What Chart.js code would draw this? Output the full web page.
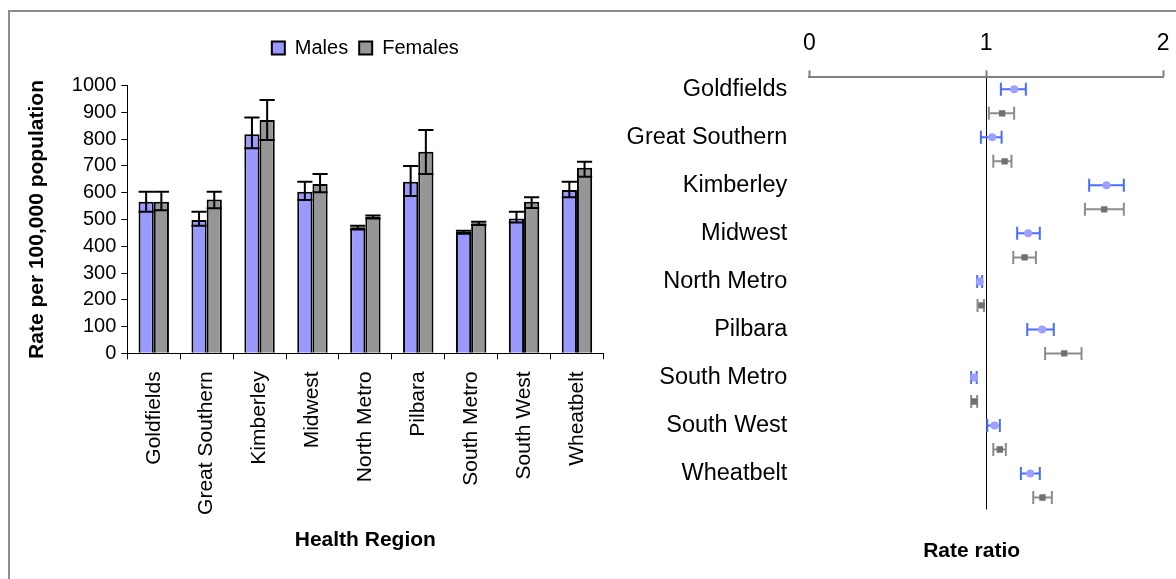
<!DOCTYPE html>
<html><head><meta charset="utf-8">
<script src="https://cdn.jsdelivr.net/npm/chart.js@4.4.1/dist/chart.umd.min.js"></script>
<style>
html,body{margin:0;padding:0;background:#fff;width:1176px;height:579px;overflow:hidden;}
#frame{position:absolute;left:8px;top:10px;width:1300px;height:700px;border-top:2px solid #8c8c8c;border-left:2px solid #8c8c8c;}
#left{position:absolute;left:0;top:0;}
#right{position:absolute;left:600px;top:0;}
</style></head><body>
<div id="frame"></div>
<canvas id="left" width="640" height="579"></canvas>
<canvas id="right" width="582" height="579"></canvas>
<script>
const regions = ['Goldfields','Great Southern','Kimberley','Midwest','North Metro','Pilbara','South Metro','South West','Wheatbelt'];
const rateTicks = [0,100,200,300,400,500,600,700,800,900,1000];
const maleRate     = [566, 498, 819, 604, 471, 641, 454, 504, 610];
const maleRateHigh = [604, 529, 881, 641, 477, 700, 458, 529, 641];
const maleRateLow  = [529, 477, 766, 573, 463, 588, 447, 489, 583];
const femaleRate     = [566, 575, 872, 633, 510, 753, 486, 566, 693];
const femaleRateHigh = [604, 604, 947, 670, 515, 834, 492, 583, 716];
const femaleRateLow  = [535, 542, 797, 602, 504, 670, 479, 543, 660];
const ratioTicks = [0, 1, 2];
const rrMale     = [1.158, 1.034, 1.680, 1.237, 0.964, 1.316, 0.932, 1.047, 1.249];
const rrMaleLow  = [1.083, 0.970, 1.582, 1.175, 0.949, 1.232, 0.915, 1.006, 1.196];
const rrMaleHigh = [1.224, 1.087, 1.778, 1.303, 0.977, 1.382, 0.946, 1.077, 1.303];
const rrFemale     = [1.090, 1.104, 1.667, 1.217, 0.974, 1.441, 0.932, 1.077, 1.318];
const rrFemaleLow  = [1.015, 1.040, 1.558, 1.153, 0.951, 1.333, 0.915, 1.040, 1.266];
const rrFemaleHigh = [1.158, 1.143, 1.778, 1.281, 0.987, 1.539, 0.949, 1.111, 1.371];

Chart.defaults.font.family = "'Liberation Sans', Arial, sans-serif";
Chart.defaults.color = '#000';

const barErrorPlugin = {
  id: 'barError',
  afterDatasetsDraw(chart) {
    const ctx = chart.ctx, ys = chart.scales.y;
    chart.data.datasets.forEach((ds, d) => {
      const meta = chart.getDatasetMeta(d);
      meta.data.forEach((bar, i) => {
        const top = ys.getPixelForValue(ds.errHigh[i]);
        const bot = ys.getPixelForValue(ds.errLow[i]);
        const half = bar.width / 2;
        ctx.save();
        ctx.strokeStyle = '#000';
        ctx.lineWidth = 2;
        ctx.beginPath();
        ctx.moveTo(bar.x, top); ctx.lineTo(bar.x, bot);
        ctx.moveTo(bar.x - half, top); ctx.lineTo(bar.x + half, top);
        ctx.moveTo(bar.x - half, bot); ctx.lineTo(bar.x + half, bot);
        ctx.stroke();
        ctx.restore();
      });
    });
  }
};

const ciPlugin = {
  id: 'ci',
  beforeDatasetsDraw(chart) {
    const ctx = chart.ctx, xs = chart.scales.x, ys = chart.scales.y;
    chart.data.datasets.forEach((ds) => {
      if (!ds.ciLow) return;
      ds.data.forEach((p, i) => {
        const x1 = xs.getPixelForValue(ds.ciLow[i]);
        const x2 = xs.getPixelForValue(ds.ciHigh[i]);
        const y = ys.getPixelForValue(p.y);
        ctx.save();
        ctx.strokeStyle = ds.ciColor;
        ctx.lineWidth = 2;
        ctx.beginPath();
        ctx.moveTo(x1, y); ctx.lineTo(x2, y);
        ctx.moveTo(x1, y - 6.5); ctx.lineTo(x1, y + 6.5);
        ctx.moveTo(x2, y - 6.5); ctx.lineTo(x2, y + 6.5);
        ctx.stroke();
        ctx.restore();
      });
    });
  }
};

new Chart(document.getElementById('left'), {
  type: 'bar',
  data: {
    labels: regions,
    datasets: [
      { label: 'Males', data: maleRate, errHigh: maleRateHigh, errLow: maleRateLow,
        backgroundColor: '#9999ff', borderColor: '#000', borderWidth: 2,
        xAxisID: 'x', yAxisID: 'y', categoryPercentage: 0.575, barPercentage: 1 },
      { label: 'Females', data: femaleRate, errHigh: femaleRateHigh, errLow: femaleRateLow,
        backgroundColor: '#969696', borderColor: '#000', borderWidth: 2,
        xAxisID: 'x', yAxisID: 'y', categoryPercentage: 0.575, barPercentage: 1 }
    ]
  },
  options: {
    responsive: false, animation: false, devicePixelRatio: 1,
    layout: { padding: { left: 10, right: 36.6, top: 27, bottom: 0 } },
    plugins: {
      legend: { display: true, position: 'top', fullSize: false,
        labels: { boxWidth: 13, boxHeight: 13, padding: 11, color: '#000', font: { size: 20 } } },
      tooltip: { enabled: false }
    },
    scales: {
      gap: { type: 'category', axis: 'x', position: 'top', display: true,
        grid: { display: false, drawTicks: false }, border: { display: false },
        ticks: { display: false }, afterFit: s => { s.height = 17.7; } },
      x: { type: 'category', position: 'bottom',
        grid: { display: true, drawOnChartArea: false, offset: true, color: '#000', tickLength: 6, lineWidth: 1 },
        border: { color: '#000', width: 1 },
        ticks: { minRotation: 90, maxRotation: 90, autoSkip: false, font: { size: 21 }, color: '#000', padding: 12 },
        title: { display: true, text: 'Health Region', color: '#000', font: { size: 21, weight: 'bold' }, padding: { top: 0, bottom: 26.4 } },
        afterFit: s => { s.height = 225.7; } },
      y: { type: 'linear', position: 'left', min: 0, max: 1000,
        afterBuildTicks: s => { s.ticks = rateTicks.map(v => ({ value: v })); },
        ticks: { autoSkip: false, font: { size: 20 }, color: '#000', padding: 5,
          callback: (v, i) => String(rateTicks[i]) },
        grid: { display: true, drawOnChartArea: false, color: '#000', tickLength: 6 },
        border: { color: '#000', width: 1 },
        title: { display: true, text: 'Rate per 100,000 population', color: '#000', font: { size: 21, weight: 'bold' }, padding: { top: 14.4, bottom: 0 } },
        afterFit: s => { s.width = 117.3; } }
    }
  },
  plugins: [barErrorPlugin]
});

new Chart(document.getElementById('right'), {
  type: 'scatter',
  data: {
    datasets: [
      { label: 'Males', data: rrMale.map((v, i) => ({ x: v, y: i * 2 })),
        ciLow: rrMaleLow, ciHigh: rrMaleHigh, ciColor: '#4a6cff',
        pointStyle: 'circle', pointRadius: 4, backgroundColor: '#9f9fff', borderWidth: 0 },
      { label: 'Females', data: rrFemale.map((v, i) => ({ x: v, y: i * 2 + 1 })),
        ciLow: rrFemaleLow, ciHigh: rrFemaleHigh, ciColor: '#8c8c8c',
        pointStyle: 'rect', pointRadius: 4.5, backgroundColor: '#707070', borderWidth: 0 }
    ]
  },
  options: {
    responsive: false, animation: false, devicePixelRatio: 1,
    layout: { padding: { left: 10, right: 0, top: 0, bottom: 0 } },
    plugins: {
      legend: { display: false }, tooltip: { enabled: false },
      title: { display: true, text: 'Rate ratio     ', position: 'bottom', fullSize: false, color: '#000',
        font: { size: 21, weight: 'bold' }, padding: { top: 29, bottom: 15.3 } }
    },
    scales: {
      x: { type: 'linear', position: 'top', min: 0, max: 2,
        afterBuildTicks: s => { s.ticks = ratioTicks.map(v => ({ value: v })); },
        ticks: { font: { size: 23 }, color: '#000', padding: 12.5 },
        grid: { color: c => (c.tick && c.tick.value === 1) ? '#000' : 'rgba(0,0,0,0)', lineWidth: 1,
          tickColor: '#808080', tickWidth: 2, tickLength: 7 },
        border: { color: '#808080', width: 2 },
        afterFit: s => { s.height = 77.3; } },
      y: { type: 'linear', reverse: true, min: -0.5, max: 17.5,
        afterBuildTicks: s => { s.ticks = regions.map((r, i) => ({ value: i * 2 })); },
        ticks: { autoSkip: false, font: { size: 23.5 }, color: '#000', padding: 22,
          callback: (v, i) => regions[i] },
        grid: { display: false, drawTicks: false }, border: { display: false },
        afterFit: s => { s.width = 199.3; } }
    }
  },
  plugins: [ciPlugin]
});
</script>
</body></html>
